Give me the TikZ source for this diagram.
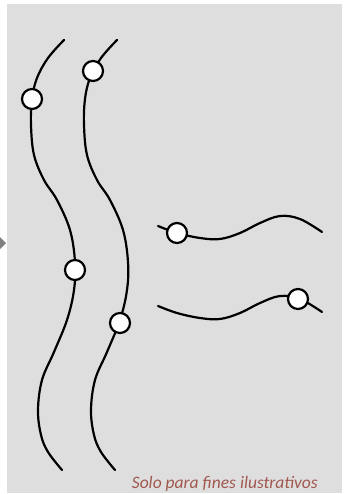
\documentclass[tikz,border=0pt]{standalone}
\usepackage{fontspec}
\newfontfamily\capfont{Carlito}
\definecolor{panelgray}{RGB}{222,222,222}
\definecolor{notecolor}{RGB}{160,88,78}
\definecolor{markgray}{RGB}{128,128,128}
\tikzset{
  wire/.style={line width=2.2pt, line cap=round},
  bead/.style={circle, draw=black, line width=2.2pt, fill=white, minimum size=20pt, inner sep=0pt},
  note/.style={font=\capfont\itshape\fontsize{17.5}{17.5}\selectfont, text=notecolor, inner sep=0pt, anchor=base east}
}
\begin{document}
\begin{tikzpicture}[x=1pt,y=-1pt]
\useasboundingbox (0,0) rectangle (343,494);
\fill[white] (0,0) rectangle (343,494);
\fill[panelgray] (7,4) rectangle (342,493);
\fill[markgray] (0,237) -- (6,243) -- (0,249) -- cycle;
% vertical wires
\foreach \dx in {0,53}{
  \draw[wire, xshift=\dx] plot[smooth, tension=0.6] coordinates {
    (64,40) (48,58) (37,78) (32,99) (31,125) (34,155) (44,180) (57,200) (70,230)
    (75,262) (74,290) (67,320) (54,352) (42,380) (38,410) (41,435) (48,452) (62,470)};
}
% horizontal wires
\foreach \dy in {0,80}{
  \draw[wire, yshift=-\dy] plot[smooth, tension=0.6] coordinates {
    (158,226) (177,233) (200,238) (220,239) (240,233) (260,223) (280,216) (300,219) (322,232)};
}
\node[bead] (b1) at (32,99) {};
\node[bead] (b2) at (75,270) {};
\node[bead] (b3) at (93,71) {};
\node[bead] (b4) at (120,323) {};
\node[bead] (b5) at (177,233) {};
\node[bead] (b6) at (298,299) {};
\node[note] (cap) at (318,488) {Solo para fines ilustrativos};
\end{tikzpicture}
\end{document}
